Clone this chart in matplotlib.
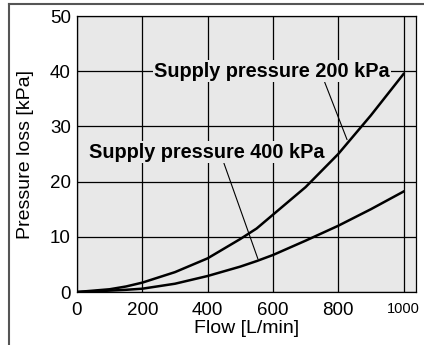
import matplotlib.pyplot as plt
from matplotlib.lines import Line2D

plt.rcParams['font.family'] = ['Liberation Sans', 'DejaVu Sans']

# flow [L/min] and pressure loss [kPa]
flow = [0, 100, 150, 200, 300, 400, 500, 550, 600, 700, 800, 900, 1000]
loss_200 = [0, 0.5, 1.0, 1.7, 3.6, 6.1, 9.6, 11.5, 14.0, 19.0, 25.0, 32.0, 39.5]
loss_400 = [0, 0.25, 0.4, 0.6, 1.5, 2.9, 4.6, 5.6, 6.7, 9.3, 12.0, 15.0, 18.2]

xticks = [0, 200, 400, 600, 800, 1000]
yticks = [0, 10, 20, 30, 40, 50]

fig = plt.figure(figsize=(4.24, 3.45), dpi=100)
ax = fig.add_axes([0.1816, 0.1536, 0.7994, 0.8])
ax.set_facecolor('#e8e8e8')

ax.plot(flow, loss_200, color='black', lw=1.8, zorder=3)
ax.plot(flow, loss_400, color='black', lw=1.8, zorder=3)

ax.set_xlim(0, 1038)
ax.set_ylim(0, 50)
ax.set_xticks(xticks)
ax.set_yticks(yticks)
ax.tick_params(length=0, labelsize=13.5)
ax.tick_params(axis='x', pad=7)
ax.tick_params(axis='y', pad=4.5)
labs = ax.get_xticklabels()
labs[-1].set_fontsize(10.5)
ax.grid(True, color='black', lw=0.9, zorder=1)
ax.set_axisbelow(True)
for s in ax.spines.values():
    s.set_linewidth(0.9)

ax.set_xlabel('Flow [L/min]', fontsize=14, labelpad=1)
ax.set_ylabel('Pressure loss [kPa]', fontsize=14, labelpad=11)

box = dict(facecolor='#e8e8e8', edgecolor='none', pad=1)
ax.annotate('Supply pressure 200 kPa', xy=(827, 27.6), xytext=(598, 40),
            ha='center', va='center', fontsize=14.3, fontweight='bold', bbox=box,
            arrowprops=dict(arrowstyle='-', lw=0.8, color='black',
                            shrinkA=0, shrinkB=0, relpos=(0.72, 0.0)),
            zorder=4)
ax.annotate('Supply pressure 400 kPa', xy=(554, 6.0), xytext=(398, 25.3),
            ha='center', va='center', fontsize=14.3, fontweight='bold', bbox=box,
            arrowprops=dict(arrowstyle='-', lw=0.8, color='black',
                            shrinkA=0, shrinkB=0, relpos=(0.57, 0.0)),
            zorder=4)

# outer frame (left and top edges only)
fig.add_artist(Line2D([8.5 / 424, 8.5 / 424], [0, 1 - 4 / 345],
                      transform=fig.transFigure, color='#555555', lw=1.5))
fig.add_artist(Line2D([8.5 / 424, 1], [1 - 4 / 345, 1 - 4 / 345],
                      transform=fig.transFigure, color='#555555', lw=1.5))

fig.savefig('out.png', dpi=100)
